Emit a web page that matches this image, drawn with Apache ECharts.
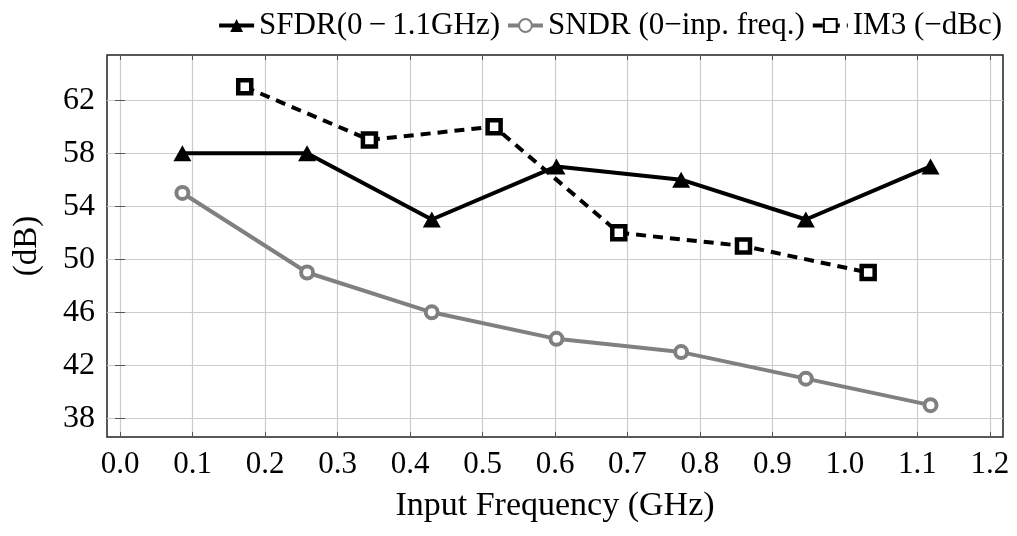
<!DOCTYPE html>
<html>
<head>
<meta charset="utf-8">
<script src="https://cdn.jsdelivr.net/npm/echarts@6/dist/echarts.min.js"></script>
<style>
    html, body { margin: 0; padding: 0; background: #fff; }
    #chart { width: 1017px; height: 536px; }
</style>
</head>
<body>
<div id="chart"></div>
<script>
// input frequency (GHz) for each measured point
const sfdrFreq = [0.086, 0.258, 0.430, 0.602, 0.774, 0.946, 1.118];
const sfdrVals = [58, 58, 53, 57, 56, 53, 57];
const sndrFreq = [0.086, 0.258, 0.430, 0.602, 0.774, 0.946, 1.118];
const sndrVals = [55, 49, 46, 44, 43, 41, 39];
const im3Freq = [0.172, 0.344, 0.516, 0.688, 0.860, 1.032];
const im3Vals = [63, 59, 60, 52, 51, 49];

const xTicks = [0, 0.1, 0.2, 0.3, 0.4, 0.5, 0.6, 0.7, 0.8, 0.9, 1.0, 1.1, 1.2];
const yTicks = [38, 42, 46, 50, 54, 58, 62];

const seriesNames = ['SFDR(0\u2009\u2212\u20091.1GHz)', 'SNDR (0\u2212inp. freq.)', 'IM3 (\u2212dBc)'];

const pair = (xs, ys) => xs.map((x, i) => [x, ys[i]]);

const serif = '"Liberation Serif", "DejaVu Serif", serif';
const gridColor = '#cccccc';

const baseX = {
    type: 'value',
    min: -0.018,
    max: 1.218,
    axisLine: { show: false },
    axisTick: { show: true, inside: true, length: 5, customValues: xTicks, lineStyle: { color: '#555' } },
    axisLabel: { show: false, customValues: xTicks },
    splitLine: { show: false }
};
const baseY = {
    type: 'value',
    min: 36.6,
    max: 65.4,
    axisLine: { show: false },
    axisTick: { show: true, inside: true, length: 5, customValues: yTicks, lineStyle: { color: '#555' } },
    axisLabel: { show: false, customValues: yTicks },
    splitLine: { show: false }
};

let option = {
    animation: false,
    backgroundColor: '#fff',
    grid: {
        left: 107,
        right: 14,
        top: 55,
        bottom: 99,
        show: true,
        borderColor: '#222',
        borderWidth: 1.5,
        backgroundColor: 'transparent'
    },
    legend: {
        top: 5,
        right: 10,
        itemWidth: 35,
        itemHeight: 16,
        itemGap: 6,
        lineStyle: { width: 4 },
        textStyle: { fontFamily: serif, fontSize: 31, color: '#000' },
        data: seriesNames
    },
    xAxis: [
        Object.assign({}, baseX, {
            position: 'bottom',
            name: 'Input Frequency (GHz)',
            nameLocation: 'middle',
            nameGap: 52,
            nameTextStyle: { fontFamily: serif, fontSize: 34, color: '#000' },
            axisLabel: {
                show: true,
                customValues: xTicks,
                margin: 12,
                fontFamily: serif,
                fontSize: 31,
                color: '#000',
                formatter: v => v.toFixed(1)
            },
            splitLine: { show: true, lineStyle: { color: gridColor, width: 1.2 } }
        }),
        Object.assign({}, baseX, { position: 'top' })
    ],
    yAxis: [
        Object.assign({}, baseY, {
            position: 'left',
            name: '(dB)',
            nameLocation: 'middle',
            nameGap: 63,
            nameRotate: 90,
            nameTextStyle: { fontFamily: serif, fontSize: 33, color: '#000' },
            axisLabel: {
                show: true,
                customValues: yTicks,
                margin: 12,
                fontFamily: serif,
                fontSize: 32,
                color: '#000'
            },
            splitLine: { show: true, lineStyle: { color: gridColor, width: 1.2 } }
        }),
        Object.assign({}, baseY, { position: 'right' })
    ],
    series: [
        {
            name: seriesNames[0],
            type: 'line',
            data: pair(sfdrFreq, sfdrVals),
            symbol: 'triangle',
            symbolSize: [18, 16],
            itemStyle: { color: '#000' },
            lineStyle: { color: '#000', width: 4 },
            z: 4
        },
        {
            name: seriesNames[1],
            type: 'line',
            data: pair(sndrFreq, sndrVals),
            symbol: 'circle',
            symbolSize: 12,
            itemStyle: { color: '#fff', borderColor: '#808080', borderWidth: 4 },
            lineStyle: { color: '#808080', width: 4 },
            z: 3
        },
        {
            name: seriesNames[2],
            type: 'line',
            data: pair(im3Freq, im3Vals),
            symbol: 'rect',
            symbolSize: 13,
            itemStyle: { color: '#fff', borderColor: '#000', borderWidth: 4.5 },
            lineStyle: { color: '#000', width: 4, type: [10, 7] },
            z: 5
        }
    ]
};

let myChart = echarts.init(document.getElementById('chart'), null, { renderer: 'canvas' });
option && myChart.setOption(option);
</script>
</body>
</html>
